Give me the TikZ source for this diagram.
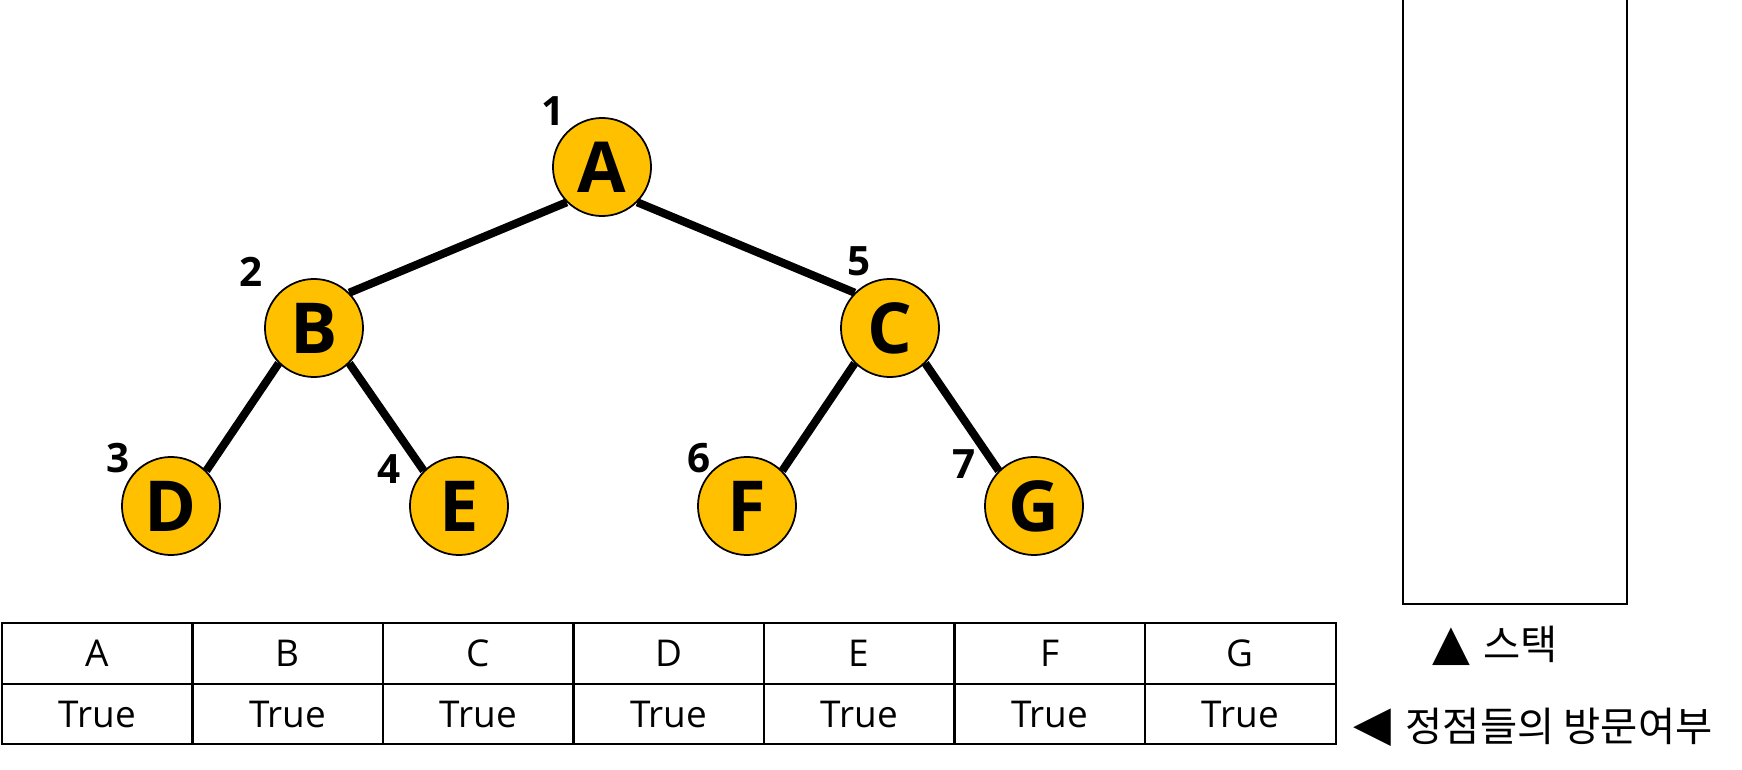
\documentclass[tikz,border=0pt]{standalone}
\usepackage{fontspec}
\setmainfont{Open Sans}
\newfontfamily\krfont{Noto Sans CJK KR}
\newfontfamily\symfont{DejaVu Sans}
\usepackage{xcolor}
\usetikzlibrary{math}
\definecolor{mygold}{RGB}{255,192,0}

\begin{document}
\begin{tikzpicture}[x=0.01cm,y=-0.01cm,
  vtx/.style={circle,draw,line width=0.5pt,fill=mygold,minimum size=0.98cm,inner sep=0pt,
    font=\bfseries\fontsize{20}{20}\selectfont},
  num/.style={font=\bfseries\fontsize{11.5}{12}\selectfont},
  edge/.style={line width=2.3pt},
  cell/.style={draw,line width=0.6pt,minimum width=1.905cm,minimum height=0.605cm,inner sep=0pt,
    font=\fontsize{10.5}{11}\selectfont},
  tri/.style={inner sep=0pt,font=\symfont\fontsize{14}{14}\selectfont},
  lbl/.style={anchor=west,inner sep=0pt,font=\krfont\fontsize{11.5}{12}\selectfont}]
\tikzmath{
\cw=190.5;
\xo=2+\cw/2;
}
\useasboundingbox (0,0) rectangle (1742,770);

% tree
\node[vtx] (A) at (602,167) {A};
\node[vtx] (B) at (314,328) {B};
\node[vtx] (C) at (890,328) {C};
\node[vtx] (D) at (171,506) {D};
\node[vtx] (E) at (459,506) {E};
\node[vtx] (F) at (747,506) {F};
\node[vtx] (G) at (1034,506) {G};

\draw[edge] (A.south west) -- (B.north east);
\draw[edge] (A.south east) -- (C.north west);
\draw[edge] (B.south west) -- (D.north east);
\draw[edge] (B.south east) -- (E.north west);
\draw[edge] (C.south west) -- (F.north east);
\draw[edge] (C.south east) -- (G.north west);

% visiting order
\node[num] (n1) at (553,111) {1};
\node[num] (n2) at (251,272) {2};
\node[num] (n3) at (118,458) {3};
\node[num] (n4) at (389,469) {4};
\node[num] (n5) at (859,261) {5};
\node[num] (n6) at (699,458) {6};
\node[num] (n7) at (964,464) {7};

% visited table
\foreach \v [count=\i from 0] in {A,B,C,D,E,F,G}{
  \node[cell] (h\v) at (\xo+\i*\cw,653.5) {\v};
  \node[cell] (t\v) at (\xo+\i*\cw,714) {True};
}

% stack
\draw[line width=0.6pt] (1403,0) -- (1403,604) -- (1627,604) -- (1627,0);

\node[tri] (up) at (1451,647) {▲};
\node[lbl] (stk) at (1483,644) {스택};
\node[tri] (lf) at (1372,728) {◀};
\node[lbl] (vis) at (1405,726) {정점들의 방문여부};
\end{tikzpicture}
\end{document}
